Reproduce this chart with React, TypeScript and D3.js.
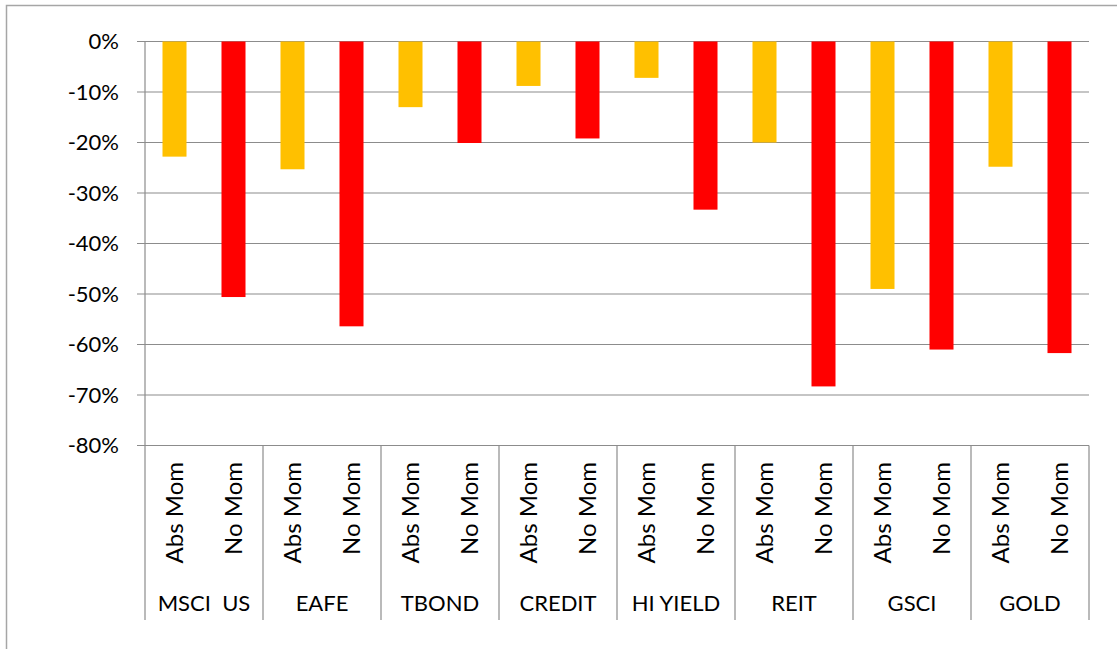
import React from 'react'
import * as d3 from 'd3'

const groups = ['MSCI  US', 'EAFE', 'TBOND', 'CREDIT', 'HI YIELD', 'REIT', 'GSCI', 'GOLD']
const seriesNames = ['Abs Mom', 'No Mom']
const absMom = [-22.8, -25.3, -13.0, -8.8, -7.2, -20.0, -49.0, -24.8]
const noMom = [-50.6, -56.4, -20.1, -19.2, -33.3, -68.3, -61.0, -61.7]
const yTicks = [0, -10, -20, -30, -40, -50, -60, -70, -80]

const colors = ['#FFC000', '#FF0000']
const font = 'Lato, "Open Sans", sans-serif'

const plot = {left: 145, right: 1089, top: 41.5, bottom: 445.5}
const catBottom = 620

export default function App() {
    const x = d3.scaleBand().domain(groups).range([plot.left, plot.right]).padding(0)
    const inner = d3.scaleBand()
                    .domain(seriesNames)
                    .range([0, x.bandwidth()])
                    .paddingInner(0.593)
                    .paddingOuter(0.2966)
    const y = d3.scaleLinear().domain([0, -80]).range([plot.top, plot.bottom])

    const values = [absMom, noMom]
    const grid = '#8c8c8c'

    return (
        <svg width={1117} height={649} style={{position: 'absolute', left: 0, top: 0, background: '#fff'}}>
            {/* outer chart frame, cropped at right and bottom */}
            <rect x={6.5} y={5.5} width={1200} height={700} fill="none" stroke="#a6a6a6" strokeWidth={1.5} />

            {/* gridlines and ticks */}
            {yTicks.map(t => (
                <g key={t}>
                    <line x1={137} x2={plot.right} y1={y(t)} y2={y(t)} stroke={grid} strokeWidth={1.2} />
                    <text x={119} y={y(t)} dy="0.35em" textAnchor="end" fontFamily={font} fontSize={22} fill="#000">
                        {t + '%'}
                    </text>
                </g>
            ))}

            {/* bars */}
            {groups.map((g, i) =>
                seriesNames.map((s, j) => {
                    const v = values[j][i]
                    return (
                        <rect key={g + s}
                              x={(x(g) as number) + (inner(s) as number)}
                              y={y(0)}
                              width={inner.bandwidth()}
                              height={y(v) - y(0)}
                              fill={colors[j]} />
                    )
                })
            )}

            {/* y axis */}
            <line x1={plot.left} x2={plot.left} y1={plot.top} y2={catBottom} stroke={grid} strokeWidth={1.2} />

            {/* category separators */}
            {groups.map(g => (
                <line key={'sep' + g} x1={(x(g) as number) + x.bandwidth()} x2={(x(g) as number) + x.bandwidth()}
                      y1={plot.bottom} y2={catBottom} stroke={grid} strokeWidth={1.2} />
            ))}

            {/* inner labels */}
            {groups.map(g =>
                seriesNames.map(s => {
                    const cx = (x(g) as number) + (inner(s) as number) + inner.bandwidth() / 2
                    return (
                        <text key={'l' + g + s} transform={`translate(${cx}, 462) rotate(-90)`}
                              textAnchor="end" dy="0.35em" fontFamily={font} fontSize={24} fill="#000">
                            {s}
                        </text>
                    )
                })
            )}

            {/* group labels */}
            {groups.map(g => (
                <text key={'g' + g} x={(x(g) as number) + x.bandwidth() / 2} y={611}
                      textAnchor="middle" fontFamily={font} fontSize={22} fill="#000"
                      style={{whiteSpace: 'pre'}}>
                    {g}
                </text>
            ))}
        </svg>
    )
}
